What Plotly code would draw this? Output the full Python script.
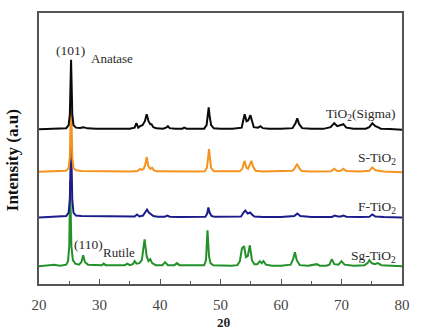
import plotly.graph_objects as go

# ---- data (x = 2theta in degrees, y = intensity above own baseline, a.u.) ----
sample_names = ["TiO2(Sigma)", "S-TiO2", "F-TiO2", "Sg-TiO2"]
sample_offsets = [156, 113, 67, 18]

sigma_pattern = [
    (20, 0), (21.5, 0.3), (23, 0.5), (24.5, 1), (24.9, 4), (25.1, 15), (25.3, 70), (25.5, 15),
    (25.7, 4), (26.1, 1.5), (26.8, 1.2), (27.3, 2), (27.6, 1.5), (28, 0.8), (29.5, 0.5),
    (31, 0.5), (33, 0.5), (35, 0.5), (35.8, 1.5), (36.1, 6), (36.4, 1.5), (36.7, 3),
    (37.1, 4), (37.5, 8), (37.8, 15), (38.1, 8), (38.4, 5), (38.6, 5), (38.9, 2), (39.4, 0.8),
    (40.5, 0.5), (41.0, 1.5), (41.3, 3), (41.6, 1), (42.5, 0.5), (43.7, 0.5), (44.0, 1.5),
    (44.4, 0.5), (46, 0.3), (47.3, 0.5), (47.7, 4), (47.9, 13), (48.05, 22), (48.2, 13),
    (48.45, 4), (48.9, 0.8), (50, 0.3), (52, 0.3), (53.5, 1.5), (53.8, 10), (54.0, 15),
    (54.3, 8), (54.6, 9), (54.95, 14), (55.2, 7), (55.5, 2), (56.2, 1.5), (56.6, 3),
    (57.0, 1), (58, 0.3), (60, 0.3), (61.9, 1), (62.4, 6), (62.7, 11), (63.0, 5), (63.5, 1),
    (65, 0.3), (67, 0.3), (68.2, 2), (68.8, 6), (69.3, 3), (69.7, 3.5), (70.3, 5), (70.8, 1.5),
    (72, 0.3), (74, 0.5), (74.6, 2), (75.1, 6), (75.6, 3), (76.0, 2), (76.5, 0.5), (78, 0.2),
    (80, -0.5),
]

s_pattern = [
    (20, 0), (22, 0.3), (24.5, 1), (24.9, 4), (25.1, 15), (25.3, 75), (25.5, 15), (25.7, 4),
    (26.1, 1.5), (27, 0.8), (29, 0.5), (32, 0.4), (35, 0.3), (36.3, 0.8), (36.7, 3), (37.0, 2),
    (37.3, 3), (37.55, 7), (37.8, 15), (38.05, 6), (38.4, 3), (38.7, 4), (39.0, 1.5),
    (39.5, 0.5), (41, 0.3), (43, 0.3), (46, 0.3), (47.4, 0.5), (47.75, 4), (47.95, 14),
    (48.1, 23), (48.25, 14), (48.45, 4), (48.9, 0.5), (51, 0.3), (53.2, 0.5), (53.6, 3),
    (53.95, 11), (54.3, 4), (54.55, 3), (54.75, 6), (55.1, 11), (55.4, 5), (55.8, 1),
    (57, 0.3), (60, 0.3), (61.9, 1), (62.3, 4), (62.65, 8), (63.0, 4), (63.4, 0.8), (65, 0.3),
    (68.3, 0.5), (68.8, 3), (69.3, 0.8), (69.9, 1), (70.3, 3), (70.8, 0.8), (73, 0.3),
    (74.6, 1), (75.1, 4.5), (75.6, 1.5), (76.2, 1), (77, 0.3), (80, -0.5),
]

f_pattern = [
    (20, 0), (22, 0.5), (24.5, 1.5), (24.9, 5), (25.1, 18), (25.3, 80), (25.5, 18), (25.7, 5),
    (26.1, 2), (27, 1.5), (27.6, 1.5), (28.5, 1), (31, 0.8), (34, 0.8), (35.8, 1), (36.2, 3),
    (36.6, 1), (37.2, 2), (37.55, 5), (37.85, 8), (38.15, 5), (38.5, 3), (38.9, 1.5),
    (39.6, 0.8), (40.8, 0.8), (41.2, 2), (41.6, 0.8), (43, 0.5), (46, 0.5), (47.5, 0.8),
    (47.8, 4), (48.0, 10), (48.2, 5), (48.5, 1.5), (49, 0.8), (52, 0.5), (53.4, 1), (53.8, 5),
    (54.1, 7), (54.5, 4), (54.9, 5), (55.2, 3), (55.6, 1), (57, 0.5), (60, 0.5), (62.2, 1.5),
    (62.7, 4), (63.2, 1.5), (65, 0.5), (68.4, 0.5), (68.9, 2), (69.4, 1), (69.9, 1), (70.3, 2),
    (70.8, 0.8), (73, 0.5), (74.6, 0.8), (75.1, 3), (75.6, 1), (77, 0.5), (80, 0),
]

sg_pattern = [
    (20, 0), (21.5, 0.5), (22.5, 1.5), (23.5, 0.5), (24.5, 1.5), (24.8, 5), (25.0, 20),
    (25.15, 85), (25.35, 20), (25.6, 6), (26.0, 2.5), (26.6, 1.5), (27.0, 4), (27.3, 11),
    (27.6, 4), (28.1, 1.5), (29.5, 0.8), (30.4, 1), (30.7, 2.5), (31.0, 1), (32.5, 0.8),
    (34.2, 1), (34.6, 2.5), (35.0, 1), (35.5, 2), (35.8, 5), (36.1, 2.5), (36.6, 3),
    (37.0, 6), (37.45, 27), (37.8, 10), (38.1, 5), (38.4, 7), (38.7, 3), (39.3, 1),
    (40.4, 1), (40.85, 4), (41.3, 1), (42.4, 1), (42.8, 3), (43.2, 1), (44.5, 0.8),
    (46, 0.5), (47.3, 0.8), (47.6, 6), (47.85, 36), (48.1, 10), (48.35, 3), (48.8, 0.8),
    (50, 0.5), (51.8, 0.5), (52.8, 1), (53.2, 5), (53.55, 18), (53.9, 20), (54.2, 9),
    (54.5, 10), (54.85, 21), (55.2, 6), (55.6, 2), (56.1, 2), (56.5, 5), (56.8, 3), (57.1, 5),
    (57.5, 1.5), (58.5, 0.5), (60, 0.5), (61.6, 1.5), (62.0, 7), (62.3, 14), (62.6, 6),
    (63.1, 1), (64.5, 0.5), (65.9, 2), (66.4, 0.5), (67.5, 0.5), (68.0, 1.5), (68.4, 7),
    (68.8, 2), (69.5, 1.5), (70.0, 5), (70.5, 1.5), (72, 0.5), (73.8, 1), (74.3, 3),
    (74.6, 6), (75.0, 3), (75.5, 2), (76.0, 3), (76.6, 1), (78, 0.5), (80, 0),
]

patterns = [sigma_pattern, s_pattern, f_pattern, sg_pattern]
colors = ["#0a0a0a", "#F5931F", "#1C1C8C", "#229129"]

x_ticks = [20, 30, 40, 50, 60, 70, 80]

fig = go.Figure()
# draw bottom series first so the darker top series sit on top
for name, pat, off, col in reversed(list(zip(sample_names, patterns, sample_offsets, colors))):
    fig.add_trace(go.Scatter(
        x=[p[0] for p in pat],
        y=[p[1] + off for p in pat],
        mode="lines", name=name,
        line=dict(color=col, width=2),
        showlegend=False, hoverinfo="skip",
    ))

serif = "Liberation Serif, Times New Roman, serif"

labels = [
    ("(101)", 25.25, 235, "center", 13.5),
    ("Anatase", 32.0, 227, "center", 13),
    ("TiO<sub>2</sub>(Sigma)", 79.4, 171, "right", 13.5),
    ("S-TiO<sub>2</sub>", 79.4, 126, "right", 13.5),
    ("F-TiO<sub>2</sub>", 79.4, 77, "right", 13.5),
    ("Sg-TiO<sub>2</sub>", 79.4, 28, "right", 13.5),
    ("(110)", 28.1, 40, "center", 13.5),
    ("Rutile", 33.2, 32, "center", 13),
]
for txt, ax, ay, anchor, sz in labels:
    fig.add_annotation(x=ax, y=ay, xref="x", yref="y", text=txt, showarrow=False,
                       xanchor=anchor, yanchor="middle",
                       font=dict(family=serif, size=sz, color="#2a2a2a"))

# axis titles placed as in the reference
fig.add_annotation(x=-0.073, y=0.455, xref="paper", yref="paper", text="<b>Intensity (a.u)</b>",
                   textangle=-90, showarrow=False, xanchor="center", yanchor="middle",
                   font=dict(family=serif, size=17, color="#111"))
fig.add_annotation(x=0.51, y=-0.143, xref="paper", yref="paper", text="<b>2θ</b>",
                   showarrow=False, xanchor="center", yanchor="middle",
                   font=dict(family=serif, size=13, color="#222"))

fig.update_layout(
    width=421, height=334,
    margin=dict(l=39, r=11, t=11, b=50),
    plot_bgcolor="white", paper_bgcolor="white",
    xaxis=dict(
        range=[20, 80], tickvals=x_ticks, ticktext=[str(v) for v in x_ticks],
        ticks="inside", ticklen=5, tickwidth=1.2, tickcolor="#555",
        minor=dict(ticks="inside", ticklen=3, dtick=5, tickcolor="#555", tickwidth=1.2),
        showline=True, linecolor="#555", linewidth=1.5, mirror=True,
        showgrid=False, zeroline=False, ticklabelstandoff=6,
        tickfont=dict(family=serif, size=15, color="#444"),
    ),
    yaxis=dict(
        range=[0, 273], showticklabels=False, ticks="",
        showline=True, linecolor="#555", linewidth=1.5, mirror=True,
        showgrid=False, zeroline=False,
    ),
)

fig.write_html("out.html", config={"displayModeBar": False},
               post_script="document.body.style.margin='0';document.body.style.overflow='hidden';")
